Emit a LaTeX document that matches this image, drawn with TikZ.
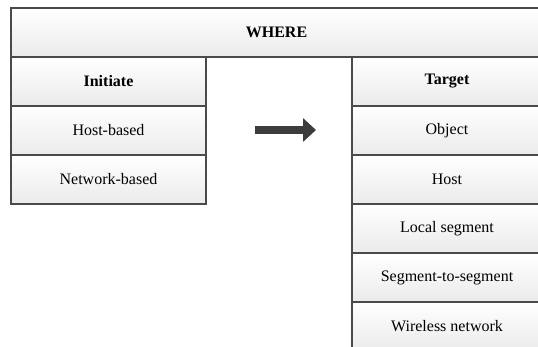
\documentclass[tikz,border=0pt]{standalone}
\usepackage{fontspec}
\setmainfont{Liberation Serif}
\usetikzlibrary{arrows.meta}
\definecolor{edge}{HTML}{4A4A4A}
\definecolor{arrowc}{HTML}{3C3C3C}
\tikzset{
  cell/.style={draw=edge, line width=1.5pt, top color=white, bottom color=gray!16,
    inner sep=0pt, outer sep=0pt, font=\fontsize{16}{18}\selectfont, text=black},
  colcell/.style={cell, minimum width=195pt, minimum height=49pt},
  tcell/.style={cell, minimum width=190pt, minimum height=49pt},
}
\begin{document}
\begin{tikzpicture}[x=1pt,y=-1pt]
\useasboundingbox (0,0) rectangle (538,346);
\node[cell, minimum width=531pt, minimum height=49pt, font=\fontsize{16}{18}\selectfont\bfseries] (where) at (276.5,32.5) {WHERE};
% Initiate column
\node[colcell, font=\fontsize{16}{18}\selectfont\bfseries] (init) at (108.5,81.5) {Initiate};
\node[colcell] (hostb) at (108.5,130.5) {Host-based};
\node[colcell] (netb) at (108.5,179.5) {Network-based};
% Target column
\node[tcell, font=\fontsize{16}{18}\selectfont\bfseries] (target) at (447,81.5) {Target};
\node[tcell] (object) at (447,130.5) {Object};
\node[tcell] (host) at (447,179.5) {Host};
\node[tcell] (local) at (447,228.5) {Local segment};
\node[tcell] (segseg) at (447,277.5) {Segment-to-segment};
\node[tcell] (wireless) at (447,326.5) {Wireless network};
% arrow
\coordinate (a1) at (255,130);
\coordinate (a2) at (316,130);
\draw[arrowc, line width=8pt, -{Triangle[length=13pt,width=23pt]}] (a1) -- (a2);
\end{tikzpicture}
\end{document}
